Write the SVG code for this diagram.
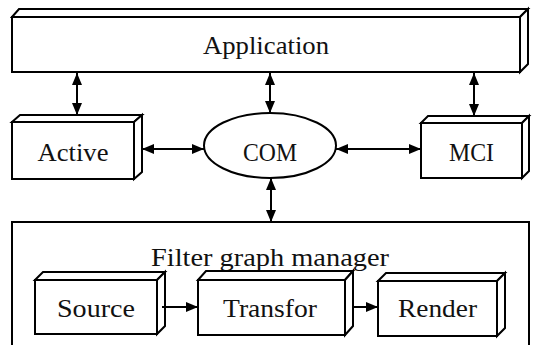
<svg xmlns="http://www.w3.org/2000/svg" width="537" height="345" viewBox="0 0 537 345">
<style>
.f{fill:#fff;stroke:#000;stroke-width:2;stroke-linejoin:miter}
.t{font-family:'Liberation Serif','DejaVu Serif','Times New Roman',serif;font-size:26px;fill:#111;text-anchor:middle}
.c{stroke:#000;stroke-width:2;fill:none}
</style>
<defs>
<marker id="ah" viewBox="0 0 12 10" refX="12" refY="5" markerWidth="12" markerHeight="10" markerUnits="userSpaceOnUse" orient="auto-start-reverse">
<path d="M0,0L12,5L0,10z" fill="#000"/>
</marker>
</defs>
<rect width="537" height="345" fill="#fff"/>
<g id="filtergraph">
<path class="f" d="M12,346V222H529V346"/>
<text class="t" font-family="Liberation Serif, serif" x="270" y="266" textLength="238" lengthAdjust="spacingAndGlyphs">Filter graph manager</text>
</g>
<g id="application">
<path class="f" d="M12,17H520V72H12z"/>
<path class="f" d="M12,17L19,9H528L520,17z"/>
<path class="f" d="M520,17L528,9V64L520,72z"/>
<text class="t" x="266" y="54" textLength="126" lengthAdjust="spacingAndGlyphs">Application</text>
</g>
<g id="active">
<path class="f" d="M12,122H134V179H12z"/>
<path class="f" d="M12,122L20,115H142L134,122z"/>
<path class="f" d="M134,122L142,115V172L134,179z"/>
<text class="t" x="73" y="161" textLength="71" lengthAdjust="spacingAndGlyphs">Active</text>
</g>
<g id="com">
<ellipse class="f" cx="270" cy="145.5" rx="66" ry="32.5"/>
<text class="t" x="270" y="161" textLength="54" lengthAdjust="spacingAndGlyphs">COM</text>
</g>
<g id="mci">
<path class="f" d="M421,123H522V178H421z"/>
<path class="f" d="M421,123L428,116H529L522,123z"/>
<path class="f" d="M522,123L529,116V171L522,178z"/>
<text class="t" x="471.5" y="161" textLength="45" lengthAdjust="spacingAndGlyphs">MCI</text>
</g>
<g id="source">
<path class="f" d="M35,280H157V334H35z"/>
<path class="f" d="M35,280L43,272H165L157,280z"/>
<path class="f" d="M157,280L165,272V326L157,334z"/>
<text class="t" x="96" y="317" textLength="78" lengthAdjust="spacingAndGlyphs">Source</text>
</g>
<g id="transfor">
<path class="f" d="M198,280H345V335H198z"/>
<path class="f" d="M198,280L206,271H353L345,280z"/>
<path class="f" d="M345,280L353,271V326L345,335z"/>
<text class="t" x="270" y="317" textLength="94" lengthAdjust="spacingAndGlyphs">Transfor</text>
</g>
<g id="render">
<path class="f" d="M378,281H497V336H378z"/>
<path class="f" d="M378,281L386,273H505L497,281z"/>
<path class="f" d="M497,281L505,273V328L497,336z"/>
<text class="t" x="437.5" y="317" textLength="79" lengthAdjust="spacingAndGlyphs">Render</text>
</g>
<g id="connectors">
<line class="c" x1="77" y1="73" x2="77" y2="115" marker-start="url(#ah)" marker-end="url(#ah)"/>
<line class="c" x1="270" y1="73" x2="270" y2="113" marker-start="url(#ah)" marker-end="url(#ah)"/>
<line class="c" x1="474" y1="73" x2="474" y2="116" marker-start="url(#ah)" marker-end="url(#ah)"/>
<line class="c" x1="142" y1="149" x2="204" y2="149" marker-start="url(#ah)" marker-end="url(#ah)"/>
<line class="c" x1="336" y1="149" x2="421" y2="149" marker-start="url(#ah)" marker-end="url(#ah)"/>
<line class="c" x1="271" y1="178" x2="271" y2="222" marker-start="url(#ah)" marker-end="url(#ah)"/>
<line class="c" x1="162" y1="307" x2="198" y2="307" marker-end="url(#ah)"/>
<line class="c" x1="353" y1="307" x2="378" y2="307" marker-end="url(#ah)"/>
</g>
</svg>
